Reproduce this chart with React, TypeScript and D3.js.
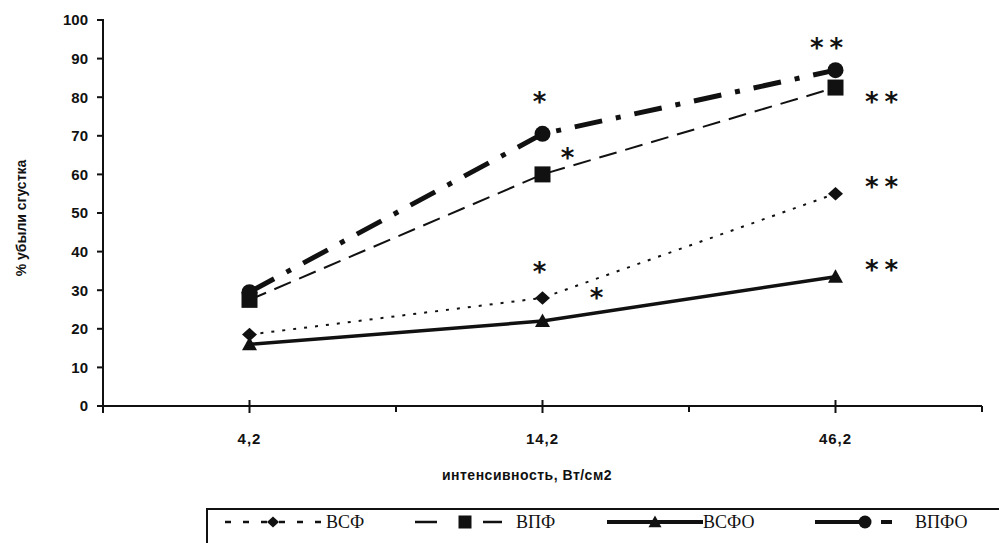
import React from "react";
import * as d3 from "d3";

// intensity categories (W/cm2)
const categories = ["4,2", "14,2", "46,2"];
const yTicks = [0, 10, 20, 30, 40, 50, 60, 70, 80, 90, 100];

// % clot loss per series
const vsf = [18.5, 28, 55];
const vpf = [27.5, 60, 82.5];
const vsfo = [16, 22, 33.5];
const vpfo = [29.5, 70.5, 87];

const seriesNames = ["ВСФ", "ВПФ", "ВСФО", "ВПФО"];

// significance marks: text, category index, value level
const marks: [string, number, number][] = [
  ["*", 1, 80],
  ["*", 1, 65.5],
  ["**", 2, 94],
  ["**", 2, 80],
  ["**", 2, 58],
  ["**", 2, 36.5],
  ["*", 1, 36],
  ["*", 1, 29.3],
];
const markDx = [-3, 25, -6, 49, 49, 49, -3, 54];

const W = 999;
const H = 543;
const left = 103;
const right = 982;
const top = 20;
const bottom = 406;

const ink = "#111";
const sans = "'Liberation Sans', Arial, sans-serif";
const serif = "'Liberation Serif', 'Times New Roman', serif";

const styles = [
  { dash: "3 8", width: 2, marker: "diamond", legendDash: "6 12" },
  { dash: "18 9", width: 2, marker: "square", legendDash: "22 46 19 100" },
  { dash: null, width: 3.5, marker: "triangle", legendDash: null },
  { dash: "28 14 5 14", width: 5, marker: "circle", legendDash: "50 16 11 100" },
];

function Marker({ kind, x, y, s }: { kind: string; x: number; y: number; s: number }) {
  if (kind === "diamond")
    return (
      <path
        d={`M${x},${y - s * 0.45}L${x + s / 2},${y}L${x},${y + s * 0.45}L${x - s / 2},${y}Z`}
        fill={ink}
      />
    );
  if (kind === "square")
    return <rect x={x - s / 2} y={y - s / 2} width={s} height={s} fill={ink} />;
  if (kind === "triangle")
    return (
      <path
        d={`M${x},${y - s * 0.5}L${x + s / 2},${y + s * 0.4}L${x - s / 2},${y + s * 0.4}Z`}
        fill={ink}
      />
    );
  return <circle cx={x} cy={y} r={s / 2} fill={ink} />;
}

export default function App() {
  const x = d3.scaleBand().domain(categories).range([left, right]);
  const y = d3.scaleLinear().domain([0, 100]).range([bottom, top]);
  const cx = (i: number) => (x(categories[i]) as number) + x.bandwidth() / 2;

  const data = [vsf, vpf, vsfo, vpfo];
  const lineGen = d3
    .line<number>()
    .x((_, i) => cx(i))
    .y((d) => y(d));

  const markerSize = [15, 16, 15, 16];
  const bounds = categories.map((c) => (x(c) as number) + x.bandwidth());

  const legendItems = [
    { x0: 225, mx: 273, x1: 322, tx: 326 },
    { x0: 415, mx: 465, x1: 502, tx: 516 },
    { x0: 607, mx: 655, x1: 703, tx: 703 },
    { x0: 815, mx: 865, x1: 892, tx: 915 },
  ];
  const legendY = 522;

  return (
    <svg width={W} height={H} style={{ position: "absolute", left: 0, top: 0, background: "#fff" }}>
      <rect width={W} height={H} fill="#fff" />

      {/* y axis */}
      <line x1={left} x2={left} y1={top - 1} y2={bottom + 7} stroke={ink} strokeWidth={2} />
      {yTicks.map((t) => (
        <g key={t}>
          <line x1={left - 6} x2={left} y1={y(t)} y2={y(t)} stroke={ink} strokeWidth={2} />
          <text
            x={left - 15}
            y={y(t)}
            dy="0.36em"
            textAnchor="end"
            fontFamily={sans}
            fontWeight="bold"
            fontSize={15}
            fill={ink}
          >
            {t}
          </text>
        </g>
      ))}
      <text
        transform={`translate(26,${(top + bottom) / 2 + 5}) rotate(-90)`}
        textAnchor="middle"
        fontFamily={sans}
        fontWeight="bold"
        fontSize={14}
        fill={ink}
      >
        % убыли сгустка
      </text>

      {/* x axis */}
      <line x1={left - 6} x2={right} y1={bottom} y2={bottom} stroke={ink} strokeWidth={2} />
      {bounds.map((b, i) => (
        <line key={i} x1={b} x2={b} y1={bottom} y2={bottom + 6} stroke={ink} strokeWidth={2} />
      ))}
      {categories.map((c, i) => (
        <g key={c}>
          <line x1={cx(i)} x2={cx(i)} y1={bottom - 6} y2={bottom + 7} stroke={ink} strokeWidth={2} />
          <text
            x={cx(i)}
            y={bottom + 38}
            textAnchor="middle"
            fontFamily={sans}
            fontWeight="bold"
            fontSize={15}
            fill={ink}
            letterSpacing={1}
          >
            {c}
          </text>
        </g>
      ))}
      <text
        x={527}
        y={480}
        textAnchor="middle"
        fontFamily={sans}
        fontWeight="bold"
        fontSize={14}
        fill={ink}
        letterSpacing={0.5}
      >
        интенсивность, Вт/см2
      </text>

      {/* series */}
      {data.map((d, si) => (
        <g key={si}>
          <path
            d={lineGen(d) as string}
            fill="none"
            stroke={ink}
            strokeWidth={styles[si].width}
            strokeDasharray={styles[si].dash ?? undefined}
          />
          {d.map((v, i) => (
            <Marker key={i} kind={styles[si].marker} x={cx(i)} y={y(v)} s={markerSize[si]} />
          ))}
        </g>
      ))}

      {/* significance marks */}
      {marks.map(([t, ci, v], i) => (
        <text
          key={i}
          x={cx(ci) + markDx[i]}
          y={y(v) + 14}
          textAnchor="middle"
          fontFamily="'DejaVu Sans', sans-serif"
          fontWeight="bold"
          fontSize={26}
          letterSpacing={t.length > 1 ? 6 : 0}
          fill={ink}
        >
          {t}
        </text>
      ))}

      {/* legend */}
      <rect x={207} y={509} width={820} height={60} fill="none" stroke={ink} strokeWidth={2} />
      {legendItems.map((l, si) => (
        <g key={si}>
          <line
            x1={l.x0}
            x2={l.x1}
            y1={legendY}
            y2={legendY}
            stroke={ink}
            strokeWidth={si >= 2 ? 4 : 2.5}
            strokeDasharray={styles[si].legendDash ?? undefined}
          />
          <Marker kind={styles[si].marker} x={l.mx} y={legendY} s={si === 0 ? 12 : 13} />
          <text
            x={l.tx}
            y={legendY}
            dy="0.35em"
            fontFamily={serif}
            fontSize={18}
            fill={ink}
          >
            {seriesNames[si]}
          </text>
        </g>
      ))}
    </svg>
  );
}
